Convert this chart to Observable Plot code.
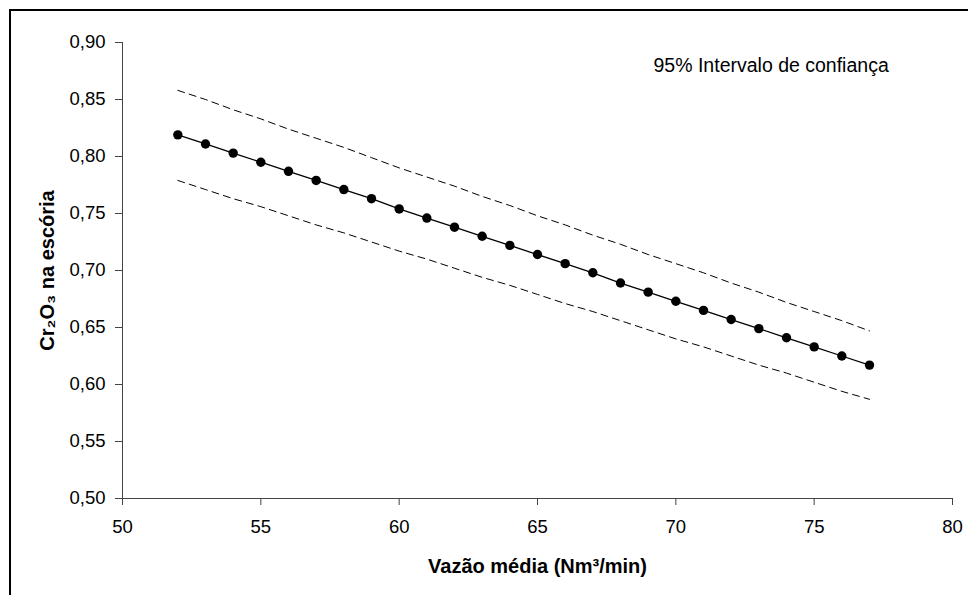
<!DOCTYPE html>
<html>
<head>
<meta charset="utf-8">
<script src="https://cdn.jsdelivr.net/npm/d3@7"></script>
<script src="https://cdn.jsdelivr.net/npm/@observablehq/plot@0.6"></script>
<style>
  html, body { margin: 0; padding: 0; background: #fff; }
  #chart { width: 968px; height: 595px; overflow: hidden; }
</style>
</head>
<body>
<div id="chart"></div>
<script>
// Data
const vazao = [52,53,54,55,56,57,58,59,60,61,62,63,64,65,66,67,68,69,70,71,72,73,74,75,76,77];
const cr2o3 = [0.819,0.811,0.803,0.795,0.787,0.779,0.771,0.763,0.754,0.746,0.738,0.730,0.722,0.714,0.706,0.698,0.689,0.681,0.673,0.665,0.657,0.649,0.641,0.633,0.625,0.617];
const upper95 = [0.858,0.850,0.841,0.833,0.824,0.816,0.808,0.799,0.790,0.782,0.774,0.765,0.757,0.748,0.740,0.731,0.723,0.714,0.706,0.698,0.689,0.681,0.672,0.664,0.656,0.647];
const lower95 = [0.779,0.771,0.763,0.756,0.748,0.740,0.733,0.725,0.717,0.710,0.702,0.694,0.687,0.679,0.671,0.664,0.656,0.648,0.640,0.633,0.625,0.617,0.610,0.602,0.594,0.587];
const xTicks = [50,55,60,65,70,75,80];
const yTicks = [0.50,0.55,0.60,0.65,0.70,0.75,0.80,0.85,0.90];
const xTitle = "Vazão média (Nm³/min)";
const yTitle = "Cr₂O₃ na escória";
const annotation = "95% Intervalo de confiança";

const pts = vazao.map((x, i) => ({x, y: cr2o3[i]}));
const up = vazao.map((x, i) => ({x, y: upper95[i]}));
const lo = vazao.map((x, i) => ({x, y: lower95[i]}));
const comma = d => d3.format(".2f")(d).replace(".", ",");
const axisColor = "#444";

const svg = Plot.plot({
  width: 968,
  height: 595,
  marginTop: 42,
  marginRight: 16,
  marginBottom: 97,
  marginLeft: 122,
  style: {fontFamily: "'Liberation Sans', Arial, sans-serif", fontSize: "18.5px", color: "#000", background: "#fff", overflow: "visible"},
  x: {domain: [50, 80]},
  y: {domain: [0.5, 0.9]},
  marks: [
    Plot.ruleY([0.5], {stroke: axisColor, strokeWidth: 1}),
    Plot.ruleX([50], {stroke: axisColor, strokeWidth: 1}),
    Plot.axisX({ticks: xTicks, tickSize: 7, tickPadding: 14, stroke: axisColor, fill: "#000", label: null, fontSize: 18.5}),
    Plot.axisY({ticks: yTicks, tickSize: 7, tickPadding: 10, tickFormat: comma, stroke: axisColor, fill: "#000", label: null, fontSize: 18.5}),
    Plot.line(up, {x: "x", y: "y", stroke: "#000", strokeWidth: 1, strokeDasharray: "7,5"}),
    Plot.line(lo, {x: "x", y: "y", stroke: "#000", strokeWidth: 1, strokeDasharray: "7,5"}),
    Plot.line(pts, {x: "x", y: "y", stroke: "#000", strokeWidth: 1.3}),
    Plot.dot(pts, {x: "x", y: "y", r: 4.7, fill: "#000", stroke: "none"}),
    Plot.text([annotation], {text: d => d, frameAnchor: "top-left", dx: 531, dy: 29, textAnchor: "start", lineAnchor: "bottom", fontSize: 19.5, fill: "#000"}),
    Plot.text([xTitle], {text: d => d, frameAnchor: "bottom", dy: 74, textAnchor: "middle", lineAnchor: "bottom", fontSize: 20, fontWeight: "bold", fill: "#000"}),
    Plot.text([yTitle], {text: d => d, frameAnchor: "left", dx: -69, rotate: -90, textAnchor: "middle", lineAnchor: "bottom", fontSize: 20, fontWeight: "bold", fill: "#000"})
  ]
});

d3.select(svg).append("path")
  .attr("d", "M10,600 V10 H970")
  .attr("fill", "none")
  .attr("stroke", "#000")
  .attr("stroke-width", 2);

document.getElementById("chart").appendChild(svg);
</script>
</body>
</html>
